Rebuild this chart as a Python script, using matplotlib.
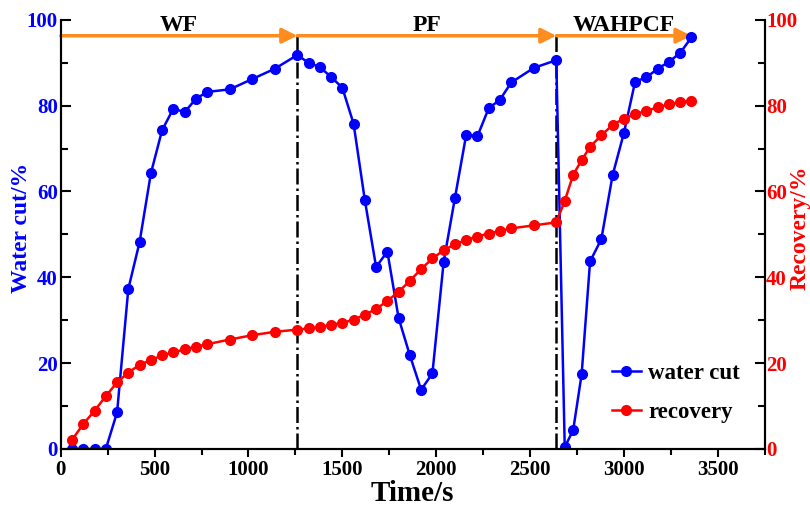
import matplotlib
matplotlib.use('Agg')
import matplotlib.pyplot as plt

plt.rcParams['font.family'] = ['Liberation Serif', 'DejaVu Serif']
plt.rcParams['font.weight'] = 'bold'

# time points (s)
time = [60, 120, 180, 240, 300, 360, 420, 480, 540, 600, 660, 720, 780,
        900, 1020, 1140, 1260, 1320, 1380, 1440, 1500, 1560, 1620, 1680,
        1740, 1800, 1860, 1920, 1980, 2040, 2100, 2160, 2220, 2280, 2340,
        2400, 2520, 2640, 2685, 2730, 2775, 2820, 2880, 2940, 3000, 3060,
        3120, 3180, 3240, 3300, 3360]

water_cut = [0, 0, 0, 0, 8.5, 37.3, 48.2, 64.2, 74.3, 79.3, 78.5, 81.6, 83.2,
             83.8, 86.2, 88.6, 91.8, 90.0, 89.0, 86.7, 84.2, 75.8, 58.0, 42.4,
             46.0, 30.5, 21.8, 13.8, 17.6, 43.6, 58.5, 73.2, 72.9, 79.4, 81.4,
             85.4, 88.8, 90.6, 0.4, 4.4, 17.4, 43.7, 48.9, 63.8, 73.6, 85.6,
             86.6, 88.6, 90.2, 92.3, 95.9]

recovery = [2.1, 5.8, 8.9, 12.3, 15.5, 17.8, 19.6, 20.7, 21.8, 22.5, 23.2, 23.8, 24.4,
            25.5, 26.5, 27.3, 27.8, 28.1, 28.4, 28.9, 29.4, 30.1, 31.3, 32.6,
            34.5, 36.6, 39.2, 41.9, 44.4, 46.3, 47.7, 48.7, 49.5, 50.2, 50.8,
            51.4, 52.1, 52.8, 57.8, 63.9, 67.3, 70.4, 73.1, 75.5, 77.0, 78.0,
            78.8, 79.6, 80.3, 80.8, 81.2]

# flooding stages
stage_names = ['WF', 'PF', 'WAHPCF']
stage_start = [0, 1260, 2640]
stage_end = [1260, 2640, 3360]
switch_times = [1260, 2640]

fig = plt.figure(figsize=(8.1, 5.09), dpi=100)
ax = fig.add_axes([0.075, 0.118, 0.869, 0.843])
ax2 = ax.twinx()

l1, = ax.plot(time, water_cut, '-o', color='#0000FF', lw=1.8, ms=7, label='water cut', zorder=4)
l2, = ax2.plot(time, recovery, '-o', color='#FF0000', lw=1.8, ms=7, label='recovery', zorder=4)

arrow_y = 96.3
for t in switch_times:
    ax.vlines(t, 0, arrow_y, colors='black', linestyles='dashdot', lw=1.8)

for name, s, e in zip(stage_names, stage_start, stage_end):
    ax.annotate('', xy=(e, arrow_y), xytext=(s, arrow_y),
                arrowprops=dict(arrowstyle='-|>,head_length=0.9,head_width=0.45',
                                color='#FF8C1E', lw=2.5, shrinkA=0, shrinkB=0))
    ax.text((s + e) / 2, 98.8, name, ha='center', va='center', fontsize=17,
            fontweight='bold', color='black')

ax.set_xlim(0, 3750)
ax.set_ylim(0, 100)
ax2.set_ylim(0, 100)
ax.set_xticks(range(0, 3501, 500))
ax.set_xticks(range(250, 3751, 500), minor=True)
ax.set_yticks(range(0, 101, 20))
ax.set_yticks(range(10, 100, 20), minor=True)
ax2.set_yticks(range(0, 101, 20))
ax2.set_yticks(range(10, 100, 20), minor=True)

for a in (ax, ax2):
    a.spines['top'].set_visible(False)
    for sp in a.spines.values():
        sp.set_linewidth(1.5)

ax.tick_params(axis='x', which='both', direction='out', width=1.5, labelsize=15, pad=2)
ax.tick_params(axis='x', which='major', length=6)
ax.tick_params(axis='x', which='minor', length=4)
ax.tick_params(axis='y', which='both', direction='in', width=1.5, labelsize=15,
               labelcolor='#0000FF', pad=2)
ax.tick_params(axis='y', which='major', length=7)
ax.tick_params(axis='y', which='minor', length=5)
ax2.tick_params(axis='y', which='both', direction='in', width=1.5, labelsize=15,
                labelcolor='#FF0000', pad=1)
ax2.tick_params(axis='y', which='major', length=7)
ax2.tick_params(axis='y', which='minor', length=5)

for lab in ax.get_xticklabels() + ax.get_yticklabels() + ax2.get_yticklabels():
    lab.set_fontweight('bold')

ax.set_xlabel('Time/s', fontsize=21, fontweight='bold', labelpad=0)
ax.set_ylabel('Water cut/%', fontsize=17, fontweight='bold', color='#0000FF')
ax2.set_ylabel('Recovery/%', fontsize=17, fontweight='bold', color='#FF0000')
ax.yaxis.set_label_coords(-0.041, 0.516)
ax2.yaxis.set_label_coords(1.036, 0.516)

leg = ax2.legend(handles=[l1, l2], loc='lower right', bbox_to_anchor=(0.965, 0.06),
                 frameon=False, prop={'size': 16.5, 'weight': 'bold'},
                 borderpad=0, borderaxespad=0,
                 handlelength=1.3, handletextpad=0.3, labelspacing=0.8)

fig.savefig('out.png', dpi=100)
